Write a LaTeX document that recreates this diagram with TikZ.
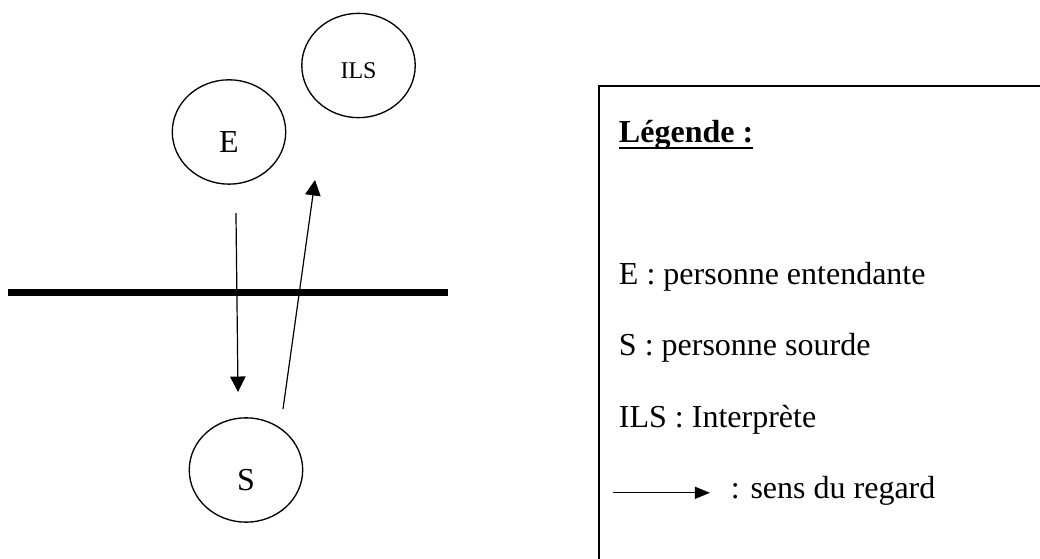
\documentclass[tikz,border=0pt]{standalone}
\usepackage{fontspec}
\setmainfont{Liberation Serif}
\newcommand{\souligne}[1]{\setbox0\hbox{#1}\rlap{\rule[-2.25pt]{\wd0}{0.75pt}}\box0}
\usetikzlibrary{positioning, shapes.geometric, arrows.meta}

\begin{document}
\begin{tikzpicture}[every node/.style={inner sep=0,outer sep=0},
    personne/.style={draw,ellipse,line width=0.5pt,minimum width=1.495cm,minimum height=1.375cm,
      text height=15.75pt,text depth=0pt,font=\fontsize{12}{14.4}\selectfont},
    regard/.style={line width=0.45pt,-{Triangle[length=5.8pt,width=5.8pt]}},
    legende/.style={font=\fontsize{12}{14.4}\selectfont}]
  \useasboundingbox (0,0) rectangle (13.707,7.3675);

  \node(E)[personne] at (3.018,5.628){E};
  \node(ILS)[personne,text height=9.7pt,font=\fontsize{9}{10.8}\selectfont] at (4.725,6.504){ILS};
  \node(S)[personne] at (3.242,1.173){S};

  % separation
  \draw[line width=2.75pt](0.105,3.510)--(5.905,3.510);

  \coordinate(Edepart) at (3.110,4.560);
  \coordinate(Sarrivee) at (3.137,2.201);
  \coordinate(Sdepart) at (3.730,1.977);
  \coordinate(ILSarrivee) at (4.152,4.995);

  \draw[regard](Edepart)--(Sarrivee);
  \draw[regard](Sdepart)--(ILSarrivee);

  % legende
  \draw[line width=0.75pt](7.888,0)--(7.888,6.234)--(13.707,6.234);
  \node(titre)[legende,anchor=base west] at (8.158,5.483){\souligne{\textbf{Légende :}}};
  \node(ent)[legende,anchor=base west] at (8.158,3.618){E : personne entendante\strut};
  \node(sou)[legende,below=12.4pt of ent.south west,anchor=north west]{S : personne sourde\strut};
  \node(ils)[legende,below=12.4pt of sou.south west,anchor=north west]{ILS : Interprète\strut};
  \node(sens)[legende,below=12.4pt of ils.south west,anchor=north west,xshift=42pt]{: sens du regard\strut};

  \draw[regard,-{Triangle[length=5.6pt,width=4.5pt]}]([xshift=-44.3pt,yshift=-0.6pt]sens.west)--([xshift=-7.9pt,yshift=-0.6pt]sens.west);
\end{tikzpicture}
\end{document}
